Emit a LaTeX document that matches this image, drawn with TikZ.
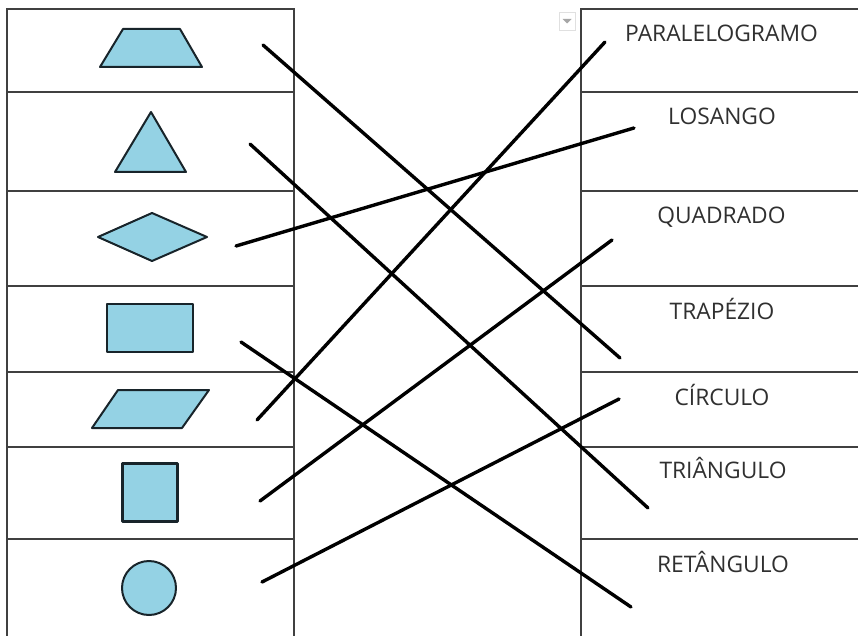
\documentclass[tikz,border=0pt]{standalone}
\usepackage{fontspec}
\setmainfont{Open Sans}
\begin{document}
\begin{tikzpicture}[x=1pt,y=-1pt,
  grid/.style={draw=black!75,line width=1.4pt},
  shapefill/.style={fill=shapeblue,draw=shapeedge,line width=2pt,line join=round},
  label/.style={anchor=base,inner sep=0pt,text=labelgray,font=\fontsize{22.8}{27}\selectfont},
  link/.style={draw=black,line width=3.4pt,line cap=round}]
\definecolor{shapeblue}{RGB}{148,210,228}
\definecolor{shapeedge}{RGB}{24,36,42}
\definecolor{labelgray}{RGB}{48,48,48}
\useasboundingbox (0,0) rectangle (858,636);
\fill[white] (0,0) rectangle (858,636);
% left table
\draw[grid] (7,640) -- (7,9) -- (294,9) -- (294,640);
\foreach \yy in {92,191,286,372,447,539} \draw[grid] (7,\yy) -- (294,\yy);
% right table
\draw[grid] (581,640) -- (581,9) -- (862,9);
\foreach \yy in {92,191,286,372,447,539} \draw[grid] (581,\yy) -- (862,\yy);
% dropdown icon
\draw[black!12,line width=0.8pt] (559,12) rectangle (575,30);
\fill[black!35] (562.5,19) -- (571.5,19) -- (567,23.5) -- cycle;
% shapes
\path[shapefill] (123,29) -- (180,29) -- (202,67) -- (100,67) -- cycle;
\path[shapefill] (151,112) -- (186,172) -- (115,172) -- cycle;
\path[shapefill] (98,237) -- (152,213) -- (207,237) -- (152,261) -- cycle;
\path[shapefill] (107,304) rectangle (193,352);
\path[shapefill] (118,390) -- (209,390) -- (182,428) -- (92,428) -- cycle;
\path[shapefill,line width=3pt] (122,463) rectangle (177,521);
\path[shapefill] (149,588) circle (27);
% labels
\node[label] (tpar) at (721.5,42) {PARALELOGRAMO};
\node[label] (tlos) at (722,125) {LOSANGO};
\node[label] (tqua) at (721.5,223) {QUADRADO};
\node[label] (ttra) at (722,319) {TRAPÉZIO};
\node[label] (tcir) at (722,405) {CÍRCULO};
\node[label] (ttri) at (723,478) {TRIÂNGULO};
\node[label] (tret) at (723,572) {RETÂNGULO};
% connector end points
\coordinate (a1) at (263,45);  \coordinate (b1) at (620,358);
\coordinate (a2) at (250,144); \coordinate (b2) at (648,508);
\coordinate (a3) at (236,246); \coordinate (b3) at (634,128);
\coordinate (a4) at (241,342); \coordinate (b4) at (631,607);
\coordinate (a5) at (257,420); \coordinate (b5) at (605,42);
\coordinate (a6) at (260,501); \coordinate (b6) at (612,240);
\coordinate (a7) at (262,582); \coordinate (b7) at (619,399);
\foreach \i in {1,...,7} \draw[link] (a\i) -- (b\i);
\end{tikzpicture}
\end{document}
